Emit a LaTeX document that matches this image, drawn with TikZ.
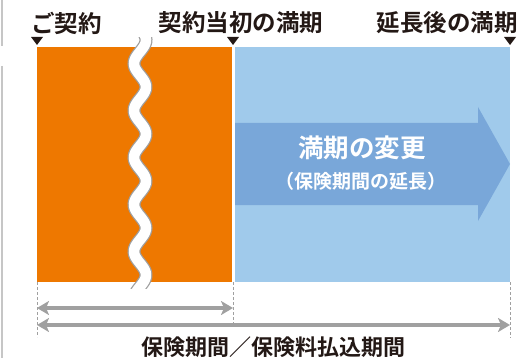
\documentclass[tikz,border=0pt]{standalone}
\usepackage{fontspec}
\newfontfamily\jpfont{Noto Sans CJK JP}[BoldFont={Noto Sans CJK JP Bold}]
\usetikzlibrary{arrows.meta}
\definecolor{orng}{RGB}{238,120,0}
\definecolor{ltblue}{RGB}{160,202,235}
\definecolor{arblue}{RGB}{121,167,217}
\definecolor{txt}{RGB}{35,24,21}
\definecolor{gry}{RGB}{160,160,160}
\tikzset{
	lbl/.style={font=\jpfont\bfseries\fontsize{23.5}{23.5}\selectfont, text=txt, inner sep=0pt},
	span/.style={gry, line width=3.5pt, {Stealth[length=12pt,width=14pt,inset=3pt]}-{Stealth[length=12pt,width=14pt,inset=3pt]}},
	guide/.style={gry, line width=0.8pt, dash pattern=on 3pt off 2pt}
}
\begin{document}
\begin{tikzpicture}[x=1pt,y=-1pt]
	\useasboundingbox (0,0) rectangle (532,358);
	\draw[gray!45, line width=1.2pt] (2,0)--(2,46) (2,66)--(2,358);
	\coordinate (A) at (37,47);
	\coordinate (B) at (233,47);
	\coordinate (C) at (510,47);
	\coordinate (s0) at (37,282);
	\coordinate (s1) at (233,282);
	\coordinate (s2) at (510,282);
	
	\fill[orng] (A) rectangle (232,282);
	\fill[ltblue] (235,47) rectangle (s2);
	\fill[arblue] (235,123)--(478,123)--(478,107)--(510,164)--(478,221)--(478,205)--(235,205)--cycle;
	\node[lbl, text=white, font=\jpfont\bfseries\fontsize{25.5}{25.5}\selectfont] (chg) at (362,148) {満期の変更};
	\node[lbl, text=white, font=\jpfont\bfseries\fontsize{19}{19}\selectfont] (ext) at (361,181) {（保険期間の延長）};
	
	\begin{scope}
		\clip (100,38) rectangle (180,288);
		\draw[gray!75, line width=13pt] plot[domain=25:300, samples=150] ({140+6*cos(7.6596*(\x-40))},\x);
		\draw[white, line width=10.5pt] plot[domain=25:300, samples=150] ({140+6*cos(7.6596*(\x-40))},\x);
	\end{scope}
	
	\foreach \m in {A,B,C}
		\fill[txt] (\m) ++(-6,-10) -- ++(12,0) -- ++(-6,8) -- cycle;
	\node[lbl, anchor=west] (start) at (31,23) {ご契約};
	\node[lbl] (first) at (241,23) {契約当初の満期};
	\node[lbl, anchor=east] (later) at (518,23) {延長後の満期};
	
	\draw[guide] (s0)--++(0,55);
	\draw[guide] (s1)--++(0,41);
	\draw[guide] (s2)--++(0,56);
	\coordinate (p0) at (37,308);
	\coordinate (p1) at (233,308);
	\coordinate (q0) at (37,325);
	\coordinate (q1) at (510,325);
	\draw[span] (p0)--(p1);
	\draw[span] (q0)--(q1);
	\node[lbl, font=\jpfont\bfseries\fontsize{22}{22}\selectfont] (total) at (273,347) {保険期間／保険料払込期間};
\end{tikzpicture}
\end{document}
